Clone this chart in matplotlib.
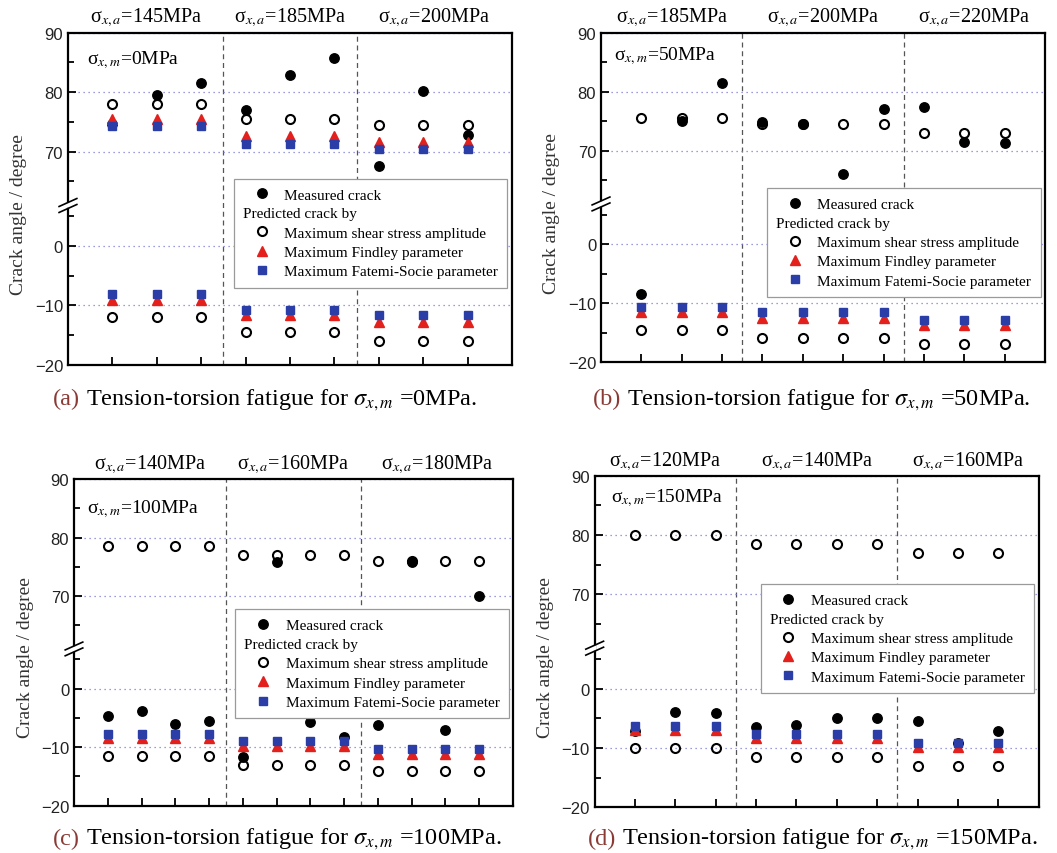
import numpy as np
import matplotlib
matplotlib.use("Agg")
import matplotlib.pyplot as plt
from matplotlib.lines import Line2D

plt.rcParams["font.family"] = ["Liberation Serif", "DejaVu Serif"]
plt.rcParams["mathtext.fontset"] = "stix"

RED = "#e3201b"
BLUE = "#2b3ea8"
BROWN = "#8a3b36"
GRID = "#7c7cd8"

# y values between BREAK_LO and BREAK_HI are cut out of the axis
BREAK_LO = 6.8
BREAK_HI = 60.95

# (a) sigma_x,m = 0 MPa
a_sxa = ["145", "185", "200"]
a_counts = [3, 3, 3]
a_measured = [74.6, 79.5, 81.5, 77.0, 82.9, 85.7, 67.6, 80.1, 72.8]
a_shear_up = [78.0, 78.0, 78.0, 75.5, 75.5, 75.5, 74.5, 74.5, 74.5]
a_shear_lo = [-12.0, -12.0, -12.0, -14.5, -14.5, -14.5, -16.0, -16.0, -16.0]
a_findley_up = [75.5, 75.5, 75.5, 72.6, 72.6, 72.6, 71.6, 71.6, 71.6]
a_findley_lo = [-9.0, -9.0, -9.0, -11.6, -11.6, -11.6, -12.8, -12.8, -12.8]
a_fs_up = [74.3, 74.3, 74.3, 71.3, 71.3, 71.3, 70.4, 70.4, 70.4]
a_fs_lo = [-8.1, -8.1, -8.1, -10.7, -10.7, -10.7, -11.6, -11.6, -11.6]

# (b) sigma_x,m = 50 MPa
b_sxa = ["185", "200", "220"]
b_counts = [3, 4, 3]
b_measured = [-8.5, 75.0, 81.4, 74.9, 74.5, 66.0, 77.0, 77.3, 71.4, 71.3]
b_shear_up = [75.5, 75.5, 75.5, 74.5, 74.5, 74.5, 74.5, 73.0, 73.0, 73.0]
b_shear_lo = [-14.5, -14.5, -14.5, -16.0, -16.0, -16.0, -16.0, -17.0, -17.0, -17.0]
b_findley_lo = [-11.5, -11.5, -11.5, -12.5, -12.5, -12.5, -12.5, -13.8, -13.8, -13.8]
b_fs_lo = [-10.6, -10.6, -10.6, -11.6, -11.6, -11.6, -11.6, -12.8, -12.8, -12.8]

# (c) sigma_x,m = 100 MPa
c_sxa = ["140", "160", "180"]
c_counts = [4, 4, 4]
c_measured = [-4.6, -3.8, -6.0, -5.5, -11.7, 75.8, -5.7, -8.3, -6.2, 75.8, -7.1, 70.0]
c_shear_up = [78.5, 78.5, 78.5, 78.5, 77.0, 77.0, 77.0, 77.0, 76.0, 76.0, 76.0, 76.0]
c_shear_lo = [-11.5, -11.5, -11.5, -11.5, -13.0, -13.0, -13.0, -13.0, -14.0, -14.0, -14.0, -14.0]
c_findley_lo = [-8.4, -8.4, -8.4, -8.4, -9.8, -9.8, -9.8, -9.8, -11.1, -11.1, -11.1, -11.1]
c_fs_lo = [-7.7, -7.7, -7.7, -7.7, -9.0, -9.0, -9.0, -9.0, -10.3, -10.3, -10.3, -10.3]

# (d) sigma_x,m = 150 MPa
d_sxa = ["120", "140", "160"]
d_counts = [3, 4, 3]
d_measured = [-7.2, -3.9, -4.1, -6.4, -6.2, -5.0, -5.0, -5.4, -9.1, -7.1]
d_shear_up = [80.0, 80.0, 80.0, 78.5, 78.5, 78.5, 78.5, 77.0, 77.0, 77.0]
d_shear_lo = [-10.0, -10.0, -10.0, -11.5, -11.5, -11.5, -11.5, -13.0, -13.0, -13.0]
d_findley_lo = [-6.9, -6.9, -6.9, -8.3, -8.3, -8.3, -8.3, -9.8, -9.8, -9.8]
d_fs_lo = [-6.3, -6.3, -6.3, -7.7, -7.7, -7.7, -7.7, -9.1, -9.1, -9.1]

major_ticks = [-20, -10, 0, 70, 80, 90]
minor_ticks = [-15, -5, 5, 65, 75, 85]
legend_labels = [
    "Measured crack",
    "Predicted crack by",
    "Maximum shear stress amplitude",
    "Maximum Findley parameter",
    "Maximum Fatemi-Socie parameter",
]


def fwd(y):
    y = np.asarray(y, dtype=float)
    return np.where(y <= BREAK_LO, y,
                    np.where(y >= BREAK_HI, y - (BREAK_HI - BREAK_LO), BREAK_LO))


def inv(y):
    y = np.asarray(y, dtype=float)
    return np.where(y <= BREAK_LO, y, y + (BREAK_HI - BREAK_LO))


def draw_panel(ax, sxa, counts, sxm, measured, shear_up, shear_lo,
               findley_lo, fs_lo, findley_up=None, fs_up=None,
               legend_top=0.56, sxm_pos=(0.04, 0.92)):
    n = len(measured)
    x = np.arange(1, n + 1)
    ax.set_yscale("function", functions=(fwd, inv))
    ax.set_ylim(-20, 90)
    ax.set_xlim(0, n + 1)

    # markers
    ax.plot(x, measured, "o", ms=6.8, color="black", zorder=3)
    for vals in (shear_up, shear_lo):
        ax.plot(x, vals, "o", ms=6.5, mfc="none", mec="black", mew=1.5, zorder=4)
    for vals in (findley_up, findley_lo):
        if vals is not None:
            ax.plot(x, vals, "^", ms=7.5, color=RED, zorder=5)
    for vals in (fs_up, fs_lo):
        if vals is not None:
            ax.plot(x, vals, "s", ms=6, color=BLUE, zorder=6)

    # group separators and titles
    edges = list(np.cumsum(counts)[:-1] + 0.5)
    for e in edges:
        ax.axvline(e, color="#555555", lw=0.9, ls=(0, (4, 3)), zorder=1)
    bounds = [0] + edges + [n + 1]
    for i, v in enumerate(sxa):
        cx = (bounds[i] + bounds[i + 1]) / 2
        ax.text(cx, 1.047, f"σ$_{{x,a}}$={v}MPa", transform=ax.get_xaxis_transform(),
                ha="center", va="center", fontsize=14.5)
    ax.text(sxm_pos[0], sxm_pos[1], f"σ$_{{x,m}}$={sxm}MPa", transform=ax.transAxes,
            ha="left", va="center", fontsize=14)

    # axes styling
    ax.set_yticks(major_ticks)
    ax.set_yticks(minor_ticks, minor=True)
    ax.set_xticks(x)
    ax.set_xticklabels([])
    ax.grid(axis="y", which="major", color=GRID, lw=0.9, ls=(0, (1, 3)), zorder=0)
    ax.tick_params(axis="both", which="major", direction="in", length=6, width=1.3,
                   labelsize=12, labelcolor="#222222")
    ax.tick_params(axis="y", which="minor", direction="in", length=4, width=1.3)
    for lbl in ax.get_yticklabels():
        lbl.set_fontfamily("Liberation Sans")
    for s in ax.spines.values():
        s.set_linewidth(1.6)
    ax.set_ylabel("Crack angle / degree", fontsize=14, color="#333333")
    ax.yaxis.set_label_coords(-0.092, 0.455)

    # break mark on the left spine
    yb = (BREAK_LO + 20) / (fwd(90) + 20)
    dx, dy, gap = 0.02, 0.012, 0.009
    ax.plot([-dx * 0.2, dx * 0.2], [yb, yb], transform=ax.transAxes, clip_on=False,
            color="white", lw=4, solid_capstyle="butt", zorder=10)
    for off in (-gap, gap):
        ax.plot([-dx, dx], [yb + off - dy, yb + off + dy], transform=ax.transAxes,
                clip_on=False, color="black", lw=1.2, zorder=11)

    # legend
    handles = [
        Line2D([], [], ls="none", marker="o", ms=6.8, color="black"),
        Line2D([], [], ls="none"),
        Line2D([], [], ls="none", marker="o", ms=6.5, mfc="none", mec="black", mew=1.5),
        Line2D([], [], ls="none", marker="^", ms=7.5, color=RED),
        Line2D([], [], ls="none", marker="s", ms=6, color=BLUE),
    ]
    leg = ax.legend(handles, legend_labels, loc="upper right",
                    bbox_to_anchor=(0.99, legend_top), fontsize=11, frameon=True,
                    fancybox=False, edgecolor="#9a9a9a", framealpha=1,
                    borderpad=0.6, labelspacing=0.37, handlelength=2.4,
                    handletextpad=0.3, borderaxespad=0)
    leg.get_frame().set_linewidth(0.9)
    leg.set_zorder(8)
    row = leg._legend_handle_box.get_children()[0].get_children()[1]
    row._children = [row._children[1]]


fig = plt.figure(figsize=(10.57, 8.54), dpi=100)
ax_a = fig.add_axes([0.0643, 0.5714, 0.420, 0.3893])
ax_b = fig.add_axes([0.5686, 0.5749, 0.420, 0.3858])
ax_c = fig.add_axes([0.0700, 0.0554, 0.4153, 0.3825])
ax_d = fig.add_axes([0.5626, 0.0535, 0.420, 0.3883])

draw_panel(ax_a, a_sxa, a_counts, "0", a_measured, a_shear_up, a_shear_lo,
           a_findley_lo, a_fs_lo, a_findley_up, a_fs_up,
           legend_top=0.56, sxm_pos=(0.043, 0.92))
draw_panel(ax_b, b_sxa, b_counts, "50", b_measured, b_shear_up, b_shear_lo,
           b_findley_lo, b_fs_lo, legend_top=0.528, sxm_pos=(0.03, 0.933))
draw_panel(ax_c, c_sxa, c_counts, "100", c_measured, c_shear_up, c_shear_lo,
           c_findley_lo, c_fs_lo, legend_top=0.601, sxm_pos=(0.03, 0.911))
draw_panel(ax_d, d_sxa, d_counts, "150", d_measured, d_shear_up, d_shear_lo,
           d_findley_lo, d_fs_lo, legend_top=0.673, sxm_pos=(0.036, 0.934))

# captions: coloured tag followed by black text on the same baseline
captions = [("a", "0", 0.050, 0.526), ("b", "50", 0.561, 0.526),
            ("c", "100", 0.050, 0.011), ("d", "150", 0.556, 0.011)]
fig.canvas.draw()
for tag, sxm, cx, cy in captions:
    t = fig.text(cx, cy, f"({tag})", color=BROWN, fontsize=17.5, va="baseline")
    fig.canvas.draw()
    x1 = t.get_window_extent().x1 / fig.bbox.width
    fig.text(x1, cy, f" Tension-torsion fatigue for $\\sigma_{{x,m}}$ ={sxm}MPa.",
             fontsize=17.5, va="baseline")

fig.savefig("out.png", dpi=100)
